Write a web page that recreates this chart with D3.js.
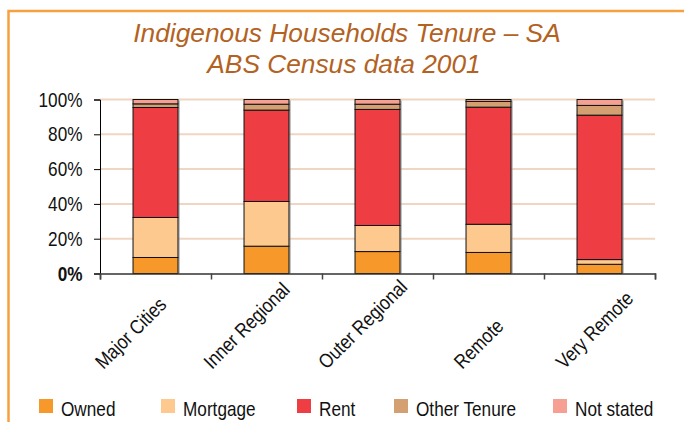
<!DOCTYPE html>
<html>
<head>
<meta charset="utf-8">
<script src="https://cdn.jsdelivr.net/npm/d3@7"></script>
<style>
  html, body { margin: 0; padding: 0; background: #fff; }
  svg { display: block; }
</style>
</head>
<body>
<svg id="chart" width="684" height="422"></svg>
<script>
// Indigenous households by tenure type, South Australia, 2001 Census (% of households)
const categories = ["Major Cities", "Inner Regional", "Outer Regional", "Remote", "Very Remote"];
const seriesNames = ["Owned", "Mortgage", "Rent", "Other Tenure", "Not stated"];
const owned       = [9.2, 15.7, 12.6, 12.1, 5.3];
const mortgage    = [23.0, 25.7, 15.0, 16.2, 2.7];
const rent        = [63.2, 52.5, 66.7, 67.3, 83.0];
const otherTenure = [2.1, 3.4, 3.0, 3.3, 5.6];
const notStated   = [2.5, 2.7, 2.7, 1.1, 3.4];
const yTicks = [0, 20, 40, 60, 80, 100];
const seriesColors = ["#F7992A", "#FDC98F", "#EE3E44", "#D4A072", "#F5A092"];

const seriesValues = [owned, mortgage, rent, otherTenure, notStated];
const rows = categories.map((c, i) => {
  const r = { category: c };
  seriesNames.forEach((s, j) => { r[s] = seriesValues[j][i]; });
  return r;
});

const svg = d3.select("#chart");
const sans = "'Liberation Sans', Arial, Helvetica, sans-serif";
const squeeze = 0.86;   // condensed look for axis and legend text

// outer frame
svg.append("rect")
  .attr("x", 8.5).attr("y", 11)
  .attr("width", 720).attr("height", 460)
  .attr("fill", "none")
  .attr("stroke", "#F7A13E")
  .attr("stroke-width", 2.5);

// title
const title = svg.append("text")
  .attr("text-anchor", "middle")
  .attr("fill", "#B3621F")
  .style("font-family", sans)
  .style("font-style", "italic")
  .style("font-size", "26.3px");
title.append("tspan").attr("x", 347).attr("y", 42).text("Indigenous Households Tenure – SA");
title.append("tspan").attr("x", 344).attr("y", 73).text("ABS Census data 2001");

const x = d3.scaleBand().domain(categories).range([100, 655]).paddingInner(0.595).paddingOuter(0.2975);
const y = d3.scaleLinear().domain([0, 100]).range([273.5, 99.5]);
// horizontal slots for the rotated category labels
const xLabel = d3.scaleBand().domain(categories).range([77.5, 657.5]);

// gridlines
svg.append("g")
  .selectAll("line")
  .data(yTicks.filter(d => d > 0))
  .join("line")
  .attr("x1", 100).attr("x2", 655)
  .attr("y1", d => y(d)).attr("y2", d => y(d))
  .attr("stroke", "#F0D6C2")
  .attr("stroke-width", 2);

const stacked = d3.stack().keys(seriesNames)(rows);

// bar shadows
svg.append("g")
  .selectAll("rect")
  .data(rows)
  .join("rect")
  .attr("x", d => x(d.category) + 2)
  .attr("y", y(100) + 1)
  .attr("width", x.bandwidth())
  .attr("height", y(0) - y(100) - 1)
  .attr("fill", "#9a9a9a")
  .attr("opacity", 0.6);

// stacked bars
svg.append("g")
  .selectAll("g")
  .data(stacked)
  .join("g")
  .attr("fill", (d, i) => seriesColors[i])
  .selectAll("rect")
  .data(d => d)
  .join("rect")
  .attr("x", d => x(d.data.category))
  .attr("y", d => y(d[1]))
  .attr("width", x.bandwidth())
  .attr("height", d => y(d[0]) - y(d[1]))
  .attr("stroke", "#111")
  .attr("stroke-width", 1);

// y axis
const yAxis = svg.append("g")
  .attr("transform", "translate(100,0)")
  .call(d3.axisLeft(y).tickValues(yTicks).tickSize(6).tickFormat(""));
yAxis.select(".domain").attr("stroke", "#000");
yAxis.selectAll(".tick line").attr("stroke", "#000");

svg.append("g")
  .selectAll("text")
  .data(yTicks)
  .join("text")
  .attr("transform", d => `translate(82.5,${y(d) + 7}) scale(${squeeze},1)`)
  .attr("text-anchor", "end")
  .attr("fill", "#111")
  .style("font-family", sans)
  .style("font-size", "20px")
  .style("font-weight", d => d === 0 ? "bold" : "normal")
  .text(d => d + "%");

// x axis with ticks between categories
const bounds = d3.range(categories.length + 1);
const xb = d3.scaleLinear().domain([0, categories.length]).range(x.range());
const xAxis = svg.append("g")
  .attr("transform", `translate(0,${y(0)})`)
  .call(d3.axisBottom(xb).tickValues(bounds).tickSize(6).tickFormat(""));
xAxis.select(".domain").attr("stroke", "#333").attr("stroke-width", 1.5);
xAxis.selectAll(".tick line").attr("stroke", "#444").attr("stroke-width", 1.5);

// category labels, rotated 45°, bottom ends aligned on one line
const labelBase = y(0) + 96.5;
const catLabels = svg.append("g")
  .selectAll("text")
  .data(categories)
  .join("text")
  .attr("text-anchor", "start")
  .attr("fill", "#111")
  .style("font-family", sans)
  .style("font-size", "20px")
  .text(d => d);
catLabels.each(function (d) {
  const len = this.getComputedTextLength() * squeeze;
  const half = len * Math.SQRT1_2 / 2;
  const cx = xLabel(d) + xLabel.bandwidth() / 2;
  d3.select(this).attr("transform",
    `translate(${cx - half},${labelBase}) rotate(-45) scale(${squeeze},1)`);
});

// legend
const legendX = [39, 161, 297, 394, 553];
const legend = svg.append("g")
  .selectAll("g")
  .data(seriesNames)
  .join("g")
  .attr("transform", (d, i) => `translate(${legendX[i]},399)`);
legend.append("rect")
  .attr("width", 14).attr("height", 14)
  .attr("fill", (d, i) => seriesColors[i]);
legend.append("text")
  .attr("transform", `translate(22,16.5) scale(${squeeze},1)`)
  .attr("fill", "#111")
  .style("font-family", sans)
  .style("font-size", "20px")
  .text(d => d);
</script>
</body>
</html>
